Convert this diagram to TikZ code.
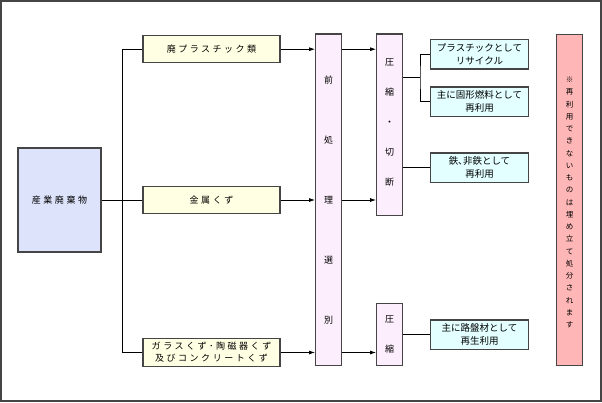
\documentclass[tikz,border=0pt]{standalone}
\usepackage{fontspec}
\setmainfont{Noto Sans CJK JP}
\newfontfamily\lsfont[LetterSpace=28]{Noto Sans CJK JP}
\usetikzlibrary{arrows.meta}
\definecolor{srcfill}{HTML}{DDE3FB}
\definecolor{yelfill}{HTML}{FFFFE3}
\definecolor{pinkfill}{HTML}{FCEEFC}
\definecolor{cyanfill}{HTML}{E3FFFF}
\definecolor{redfill}{HTML}{FFB6B6}
\definecolor{bordc}{HTML}{454545}
\begin{document}
\begin{tikzpicture}[x=1pt,y=-1pt,
  box/.style={draw=bordc, line width=1.3pt, inner sep=0pt, align=center},
  srcbox/.style={box, fill=srcfill, font=\lsfont\fontsize{9}{12}\selectfont},
  yelbox/.style={box, fill=yelfill, minimum width=137pt, font=\lsfont\fontsize{9}{12}\selectfont},
  pinkbox/.style={box, fill=pinkfill, minimum width=26pt},
  cyanbox/.style={box, fill=cyanfill, minimum width=98.4pt, minimum height=29.3pt, font=\fontsize{9.5}{13.3}\selectfont},
  conn/.style={line width=0.8pt, black},
  arr/.style={conn, -{Latex[length=6pt,width=4pt]}}
]
\useasboundingbox (0,0) rectangle (602,402);
\draw[bordc, line width=1.3pt] (1,1) rectangle (601,401);

\node[srcbox, minimum width=83pt, minimum height=104pt] (src) at (59.5,200) {産業廃棄物};
\node[yelbox, minimum height=27pt] (y1) at (211.5,49.2) {廃プラスチック類};
\node[yelbox, minimum height=26.6pt] (y2) at (211.5,200) {金属くず};
\node[yelbox, minimum height=27.4pt] (y3) at (211.5,352.5) {ガラスくず･陶磁器くず\\及びコンクリートくず};

\node[pinkbox, minimum height=331.7pt, font=\fontsize{9}{60}\selectfont] (p1) at (328.7,199.9) {前\\処\\理\\選\\別};
\node[pinkbox, minimum height=181.3pt] (p2) at (389.7,124.7) {};
\node[font=\fontsize{9}{30}\selectfont, align=center, inner sep=0pt] (p2t) at (389.7,122) {圧\\縮\\・\\切\\断};
\node[pinkbox, minimum height=62.4pt, font=\fontsize{9}{30}\selectfont] (p3) at (389.7,334.5) {圧\\縮};

\node[cyanbox] (c1) at (479.5,54.35) {プラスチックとして\\リサイクル};
\node[cyanbox] (c2) at (479.5,101.65) {主に固形燃料として\\再利用};
\node[cyanbox] (c3) at (479.5,167.65) {鉄､非鉄として\\再利用};
\node[cyanbox] (c4) at (479.5,334.65) {主に路盤材として\\再生利用};

\node[box, fill=redfill, minimum width=26pt, minimum height=331pt] (r) at (569.7,199.8) {};
\node[font=\fontsize{7.5}{12.25}\selectfont, align=center, inner sep=0pt] (rt) at (569.7,202.5)
  {※\\再\\利\\用\\で\\き\\な\\い\\も\\の\\は\\埋\\め\\立\\て\\処\\分\\さ\\れ\\ま\\す};

% trunk from source
\coordinate (trunk) at (122.7,200);
\draw[conn] (src.east) -- (trunk);
\draw[conn] (y1.west) -| (trunk) |- (y3.west);
\draw[conn] (trunk) -- (y2.west);

% arrows to pre-processing
\draw[arr] (y1.east) -- (y1.east -| p1.west);
\draw[arr] (y2.east) -- (y2.east -| p1.west);
\draw[arr] (y3.east) -- (y3.east -| p1.west);
\draw[arr] (p1.east |- y1.east) -- (p2.west |- y1.east);
\draw[arr] (p1.east |- y2.east) -- (p2.west |- y2.east);
\draw[arr] (p1.east |- y3.east) -- (p3.west |- y3.east);

% outputs
\coordinate (j) at (420,77);
\draw[conn] (j -| p2.east) -- (j);
\draw[conn] (c1.west) -| (j) |- (c2.west);
\draw[conn] (c3.west -| p2.east) -- (c3.west);
\draw[conn] (c4.west -| p3.east) -- (c4.west);
\end{tikzpicture}
\end{document}
